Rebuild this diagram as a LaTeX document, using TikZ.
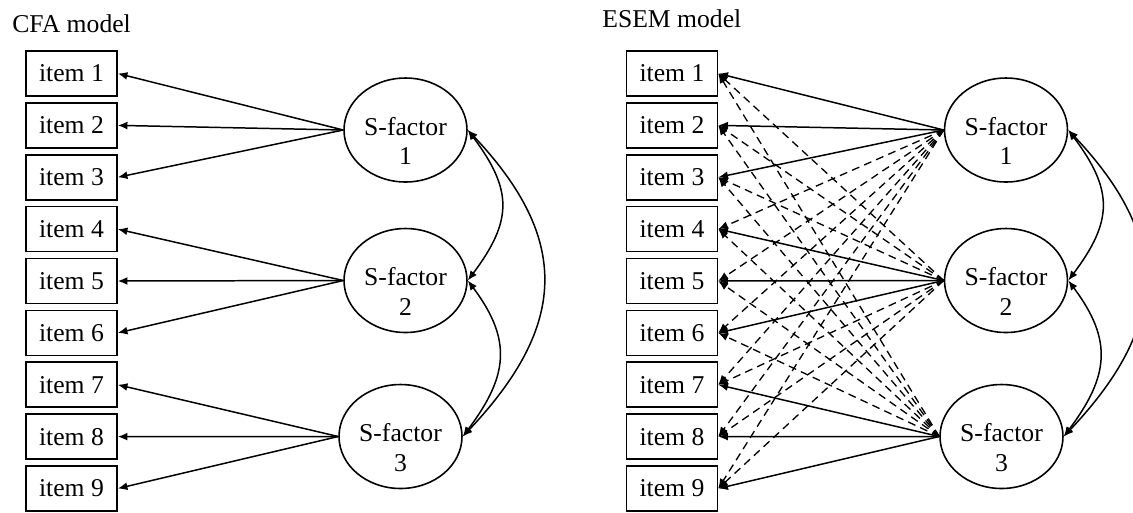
\documentclass[tikz,border=0pt]{standalone}
\usepackage{fontspec}
\setmainfont{Liberation Serif}
\usetikzlibrary{arrows.meta,shapes.geometric}
\begin{document}
\begin{tikzpicture}[x=0.02cm,y=-0.02cm,
  txt/.style={font=\fontsize{14.6}{17}\selectfont},
  itembox/.style={draw,txt,line width=0.9pt,minimum width=1.82cm,minimum height=0.9cm,inner sep=0pt},
  fac/.style={draw,ellipse,line width=0.9pt,minimum width=2.46cm,minimum height=2.08cm,inner sep=0pt},
  flab/.style={txt,align=center,inner sep=0pt},
  title/.style={txt,anchor=base west,inner sep=0pt},
  tip/.tip={Latex[length=5.5pt,width=4.5pt]},
  load/.style={line width=0.85pt,-tip},
  cross/.style={line width=0.75pt,dash pattern=on 4.5pt off 3pt,-tip},
  corr/.style={line width=0.85pt,tip-tip}
]
\useasboundingbox (0,0) rectangle (1133,512);
\fill[white] (0,0) rectangle (1133,512);

% titles
\node[title] (tcfa) at (12,32) {CFA model};
\node[title] (tesem) at (602,27) {ESEM model};

% items
\foreach \k in {1,...,9}{
  \node[itembox] (L\k) at (71.5,{73.5+51.875*(\k-1)}) {item \k};
  \node[itembox] (R\k) at (672,{73.5+51.875*(\k-1)}) {item \k};
}

% factors
\node[fac] (LF1) at (405.5,130) {};
\node[fac] (LF2) at (405.5,280.5) {};
\node[fac] (LF3) at (400.5,436.5) {};
\node[fac] (RF1) at (1006,130) {};
\node[fac] (RF2) at (1006,280.5) {};
\node[fac] (RF3) at (1001.5,436.5) {};
\foreach \s in {L,R}{
  \foreach \f in {1,2,3}{
    \node[flab] (\s F\f t) at ([yshift=-0.22cm]\s F\f.center) {S-factor\\\f};
  }
}

% CFA loadings
\foreach \f/\k in {1/1,1/2,1/3,2/4,2/5,2/6,3/7,3/8,3/9}{
  \draw[load] (LF\f.west) -- (L\k.east);
}

% ESEM cross loadings
\foreach \k in {4,...,9}{ \draw[cross] (RF1.west) -- (R\k.east); }
\foreach \k in {1,2,3,7,8,9}{ \draw[cross] (RF2.west) -- (R\k.east); }
\foreach \k in {1,...,6}{ \draw[cross] (RF3.west) -- (R\k.east); }
% ESEM main loadings
\foreach \f/\k in {1/1,1/2,1/3,2/4,2/5,2/6,3/7,3/8,3/9}{
  \draw[load] (RF\f.west) -- (R\k.east);
}

% correlations
\foreach \s in {L,R}{
  \draw[corr] (\s F1.east) .. controls +(45,60) and +(45,-60) .. (\s F2.east);
  \draw[corr] (\s F2.east) .. controls +(45,60) and +(45,-60) .. (\s F3.east);
  \draw[corr] (\s F1.east) .. controls +(104,110) and +(104,-110) .. (\s F3.east);
}
\end{tikzpicture}
\end{document}
